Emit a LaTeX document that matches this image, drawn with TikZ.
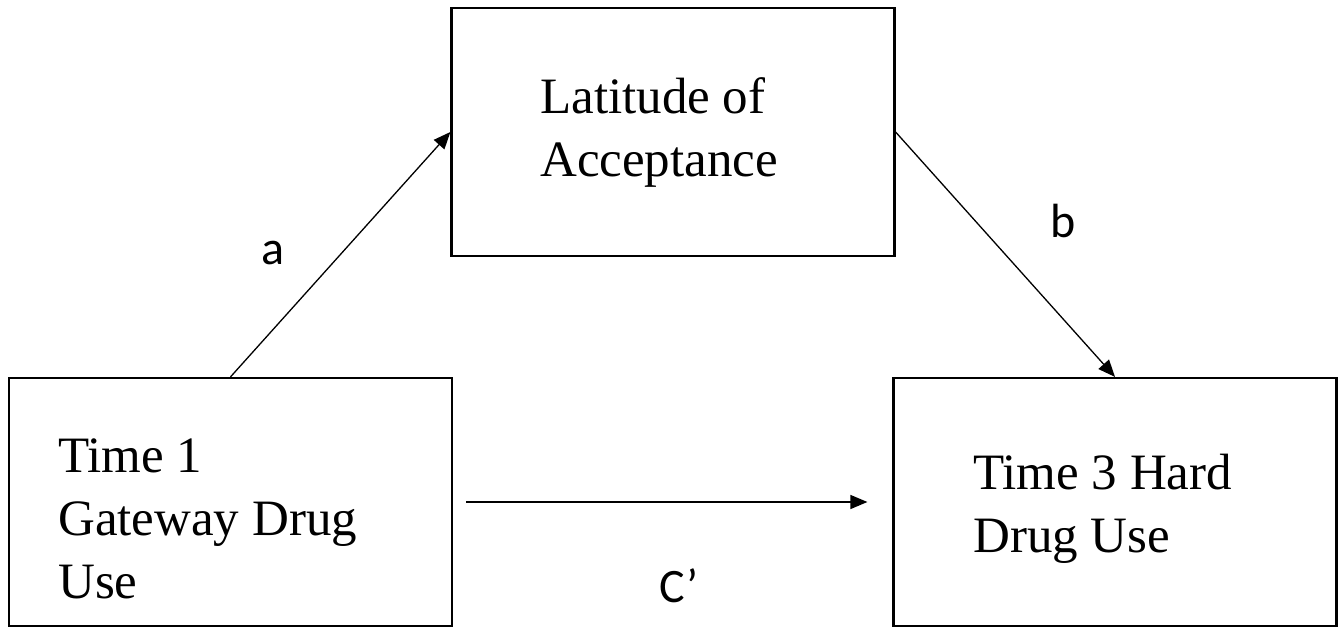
\documentclass[tikz,border=0pt]{standalone}
\usepackage{fontspec}
\setmainfont{Liberation Serif}
\newfontfamily\calfont{Carlito}
\usetikzlibrary{arrows.meta}
\tikzset{
  varbox/.style={draw, line width=2.2pt, minimum width=443pt, minimum height=248pt, inner sep=0pt},
  vartext/.style={align=left, inner sep=0pt, font=\fontsize{51}{63}\selectfont},
  path/.style={line width=1.3pt, -{Triangle[length=17pt,width=14pt]}},
  pathlabel/.style={inner sep=0pt, font=\calfont\fontsize{48}{56}\selectfont}
}
\begin{document}
\begin{tikzpicture}[x=1pt,y=-1pt]
\useasboundingbox (0,0) rectangle (1344,631);
% Boxes
\node[varbox] (gate) at (230.5,502) {};
\node[varbox] (lat) at (673,132) {};
\node[varbox] (hard) at (1115,502) {};
% Box texts (base = last line)
\node[vartext, anchor=base west] (gatetext) at (58,598) {Time 1\\Gateway Drug\\Use};
\node[vartext, anchor=base west] (lattext) at (540,177) {Latitude of\\Acceptance};
\node[vartext, anchor=base west] (hardtext) at (973,552) {Time 3 Hard\\Drug Use};
% Paths
\draw[path] (gate.north) -- (lat.west);
\draw[path] (lat.east) -- (hard.north);
\draw[path, shorten <=13pt, shorten >=25pt] (gate.east) -- (hard.west);
% Labels
\node[pathlabel, anchor=base west] (alabel) at (261,264) {a};
\node[pathlabel, anchor=base west] (blabel) at (1050,237) {b};
\node[pathlabel, anchor=base west] (clabel) at (659,602) {C’};
\end{tikzpicture}
\end{document}
